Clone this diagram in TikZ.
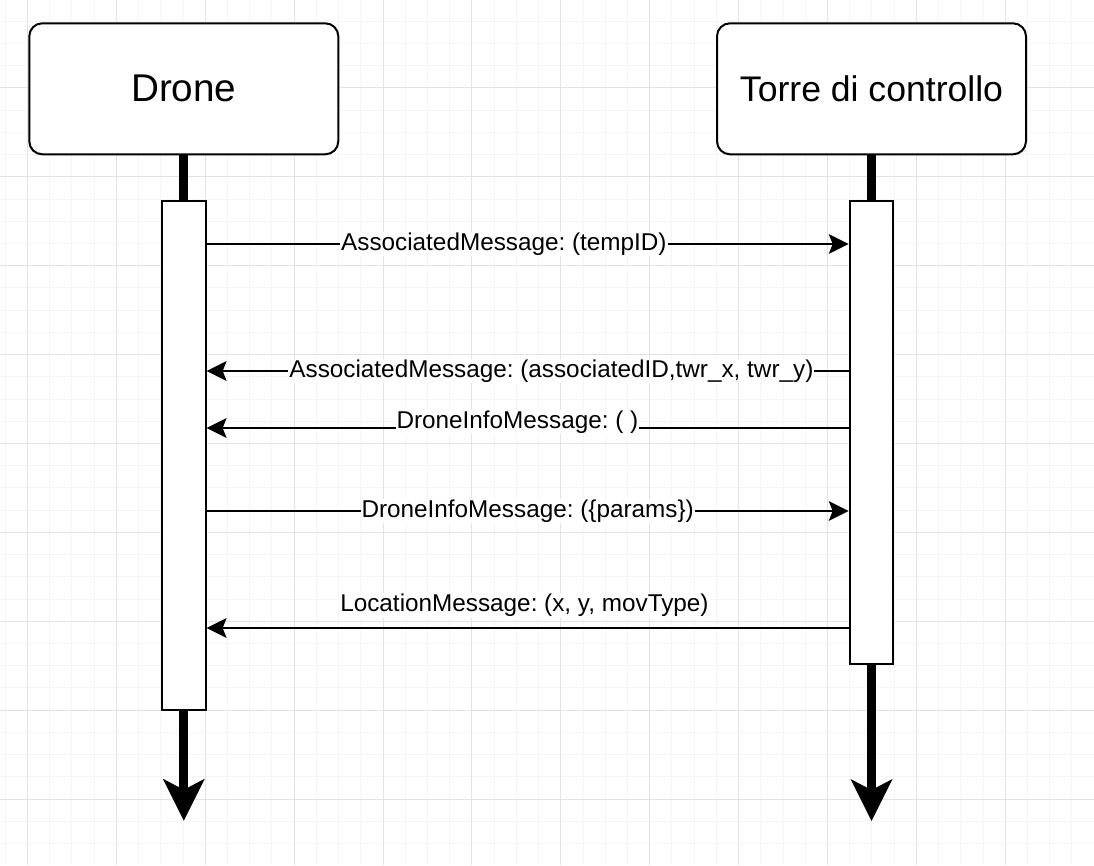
\documentclass[tikz,border=0pt]{standalone}
\usepackage{fontspec}
\setmainfont{Liberation Sans}
\usetikzlibrary{positioning,arrows.meta}
\frenchspacing

\begin{document}
\begin{tikzpicture}[x=1pt,y=-1pt,
    lifebox/.style={draw,line width=2pt,rounded corners=13pt,fill=white,minimum width=309pt,minimum height=131pt,inner sep=0pt},
    actbox/.style={draw,line width=2pt,fill=white,minimum width=43.7pt,inner sep=0pt},
    lifeline/.style={line width=9pt},
    msg/.style={line width=2pt,-{Stealth[length=20pt,width=20pt,inset=4pt,line width=0pt]}},
    lbl/.style={fill=white,inner sep=1pt,font=\fontsize{24.3pt}{29pt}\selectfont},
    minorline/.style={line width=1pt,black!4},
    majorline/.style={line width=1pt,black!11}]
    \useasboundingbox (0,0) rectangle (1094,865);
    \fill[white] (0,0) rectangle (1094,865);
    \foreach \i in {0,...,48} \draw[minorline] (5.28+22.222*\i,0) -- (5.28+22.222*\i,865);
    \foreach \i in {1,...,38} \draw[minorline] (0,-1+22.222*\i) -- (1094,-1+22.222*\i);
    \foreach \i in {0,...,11} \draw[majorline] (27.5+88.889*\i,0) -- (27.5+88.889*\i,865);
    \foreach \i in {1,...,9} \draw[majorline] (0,-1+88.889*\i) -- (1094,-1+88.889*\i);

    \node[lifebox,font=\fontsize{38.7pt}{46pt}\selectfont] (drone) at (183.8,88.8) {Drone};
    \node[lifebox,font=\fontsize{35.6pt}{43pt}\selectfont,right=376.7pt of drone] (torre) {Torre di controllo};
    \node[actbox,minimum height=508.7pt,below=44.7pt of drone] (dact) {};
    \node[actbox,minimum height=463pt,below=44.7pt of torre] (tact) {};
    \coordinate[below=110pt of dact.south] (dend);
    \coordinate[below=156pt of tact.south] (tend);

    \draw[lifeline] (drone) -- (dact);
    \draw[lifeline] (torre) -- (tact);
    \draw[lifeline,-{Stealth[length=42pt,width=42pt,inset=11pt,line width=0pt]}] (dact) -- (dend);
    \draw[lifeline,-{Stealth[length=42pt,width=42pt,inset=11pt,line width=0pt]}] (tact) -- (tend);

    \draw[msg] ([yshift=-44pt]dact.north east) -- node[lbl,pos=0.463] {AssociatedMessage: (tempID)} ([yshift=-44pt]tact.north west);
    \draw[msg] ([yshift=-171pt]tact.north west) -- node[lbl,pos=0.463] {AssociatedMessage: (associatedID,twr\_x, twr\_y)} ([yshift=-171pt]dact.north east);
    \draw[msg] ([yshift=-228pt]tact.north west) -- node[lbl,pos=0.516,yshift=6pt] {DroneInfoMessage: ( )} ([yshift=-228pt]dact.north east);
    \draw[msg] ([yshift=-311pt]dact.north east) -- node[lbl,pos=0.5] {DroneInfoMessage: (\{params\})} ([yshift=-311pt]tact.north west);
    \draw[msg] ([yshift=-428pt]tact.north west) -- node[lbl,pos=0.505,above=9pt] {LocationMessage: (x, y, movType)} ([yshift=-428pt]dact.north east);
\end{tikzpicture}
\end{document}
